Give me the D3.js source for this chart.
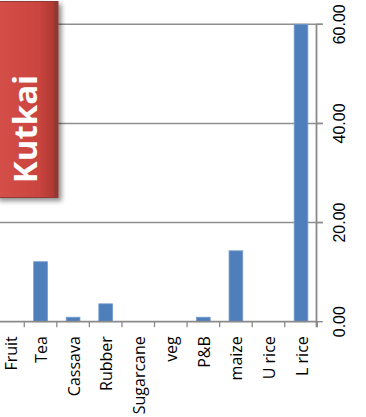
<!DOCTYPE html>
<html>
<head>
<meta charset="utf-8">
<script src="https://cdn.jsdelivr.net/npm/d3@7"></script>
<style>
  html, body { margin: 0; padding: 0; background: #ffffff; }
  svg { display: block; }
</style>
</head>
<body>
<svg id="chart" width="366" height="417"></svg>
<script>
// ---- data ----
const categories = ["Fruit", "Tea", "Cassava", "Rubber", "Sugarcane", "veg", "P&B", "maize", "U rice", "L rice"];
const values = [0, 12.1, 0.9, 3.6, 0, 0, 0.9, 14.3, 0, 60];
const valueTicks = [0, 20, 40, 60];
const tickLabels = ["0.00", "20.00", "40.00", "60.00"];
const title = "Kutkai";

// ---- layout ----
const svg = d3.select("#chart");
const plot = { left: -8.3, right: 317.3, top: 24.3, bottom: 321.7 };

const x = d3.scaleBand().domain(categories).range([plot.left, plot.right]).paddingInner(0.58).paddingOuter(0.29);
const xTicks = d3.scaleBand().domain(categories).range([plot.left, plot.right]);
const y = d3.scaleLinear().domain([0, 60]).range([plot.bottom, plot.top]);

const defs = svg.append("defs");
const grad = defs.append("linearGradient").attr("id", "boxGrad").attr("x1", "0").attr("x2", "1").attr("y1", "0").attr("y2", "0");
grad.append("stop").attr("offset", "0").attr("stop-color", "#d6504a");
grad.append("stop").attr("offset", "0.7").attr("stop-color", "#c9443e");
grad.append("stop").attr("offset", "1").attr("stop-color", "#a8352f");
const shadow = defs.append("filter").attr("id", "shadow").attr("x", "-20%").attr("y", "-20%").attr("width", "160%").attr("height", "140%");
shadow.append("feGaussianBlur").attr("in", "SourceAlpha").attr("stdDeviation", 2.5).attr("result", "b");
shadow.append("feOffset").attr("in", "b").attr("dx", 3).attr("dy", 3).attr("result", "o");
shadow.append("feComponentTransfer").attr("in", "o").attr("result", "s")
  .append("feFuncA").attr("type", "linear").attr("slope", 0.45);
const m = shadow.append("feMerge");
m.append("feMergeNode").attr("in", "s");
m.append("feMergeNode").attr("in", "SourceGraphic");

// gridlines
svg.append("g").selectAll("line").data(valueTicks.filter(d => d > 0)).join("line")
  .attr("x1", plot.left).attr("x2", plot.right + 5.5)
  .attr("y1", d => y(d)).attr("y2", d => y(d))
  .attr("stroke", "#8f8f8f").attr("stroke-width", 1.4);

// bars
svg.append("g").selectAll("rect").data(categories).join("rect")
  .attr("x", d => x(d))
  .attr("width", x.bandwidth())
  .attr("y", (d, i) => y(values[i]))
  .attr("height", (d, i) => y(0) - y(values[i]))
  .attr("fill", "#4f7fbb")
  .attr("stroke", "#7199cc")
  .attr("stroke-width", 0.8);

// category axis
const xAxis = svg.append("g");
xAxis.append("line").attr("x1", plot.left).attr("x2", plot.right)
  .attr("y1", y(0)).attr("y2", y(0)).attr("stroke", "#8a8a8a").attr("stroke-width", 1.8);
xAxis.selectAll("line.tick").data(categories).join("line").attr("class", "tick")
  .attr("x1", d => xTicks(d) + xTicks.bandwidth()).attr("x2", d => xTicks(d) + xTicks.bandwidth())
  .attr("y1", y(0)).attr("y2", y(0) + 5.5)
  .attr("stroke", "#8a8a8a").attr("stroke-width", 1.3);
xAxis.selectAll("text").data(categories).join("text")
  .attr("transform", d => `translate(${Math.max(xTicks(d) + xTicks.bandwidth() / 2 + 0.8, 11)},${y(0) + 14.5}) rotate(-90)`)
  .attr("text-anchor", "end")
  .attr("dy", "0.36em")
  .attr("font-family", "'Open Sans', sans-serif")
  .attr("font-size", 16)
  .attr("fill", "#000")
  .text(d => d);

// value axis (right)
const yAxis = svg.append("g");
yAxis.append("line").attr("x1", plot.right - 0.8).attr("x2", plot.right - 0.8)
  .attr("y1", y(60)).attr("y2", y(0) + 5.5).attr("stroke", "#8a8a8a").attr("stroke-width", 1.8);
yAxis.selectAll("line.tick").data(valueTicks).join("line").attr("class", "tick")
  .attr("x1", plot.right - 1).attr("x2", plot.right + 5.5)
  .attr("y1", d => y(d)).attr("y2", d => y(d))
  .attr("stroke", "#8a8a8a").attr("stroke-width", 1.4);
yAxis.selectAll("text").data(valueTicks).join("text")
  .attr("transform", d => `translate(${plot.right + 28},${y(d)}) rotate(-90)`)
  .attr("text-anchor", "middle")
  .attr("font-family", "'Liberation Sans', Arial, sans-serif")
  .attr("font-size", 16)
  .attr("fill", "#000")
  .text((d, i) => tickLabels[i]);

// title box
const box = svg.append("g").attr("filter", "url(#shadow)");
box.append("rect").attr("x", -4).attr("y", 1.5).attr("width", 62).attr("height", 196)
  .attr("fill", "url(#boxGrad)").attr("stroke", "#8e3a34").attr("stroke-width", 1);
box.append("rect").attr("x", 54).attr("y", 2).attr("width", 3.5).attr("height", 195)
  .attr("fill", "#7d3a33").attr("opacity", 0.55);
svg.append("text")
  .attr("transform", "translate(37,129) rotate(-90)")
  .attr("text-anchor", "middle")
  .attr("font-family", "'Open Sans', sans-serif")
  .attr("font-weight", "bold")
  .attr("font-size", 33)
  .attr("fill", "#ffffff")
  .text(title);
</script>
</body>
</html>
